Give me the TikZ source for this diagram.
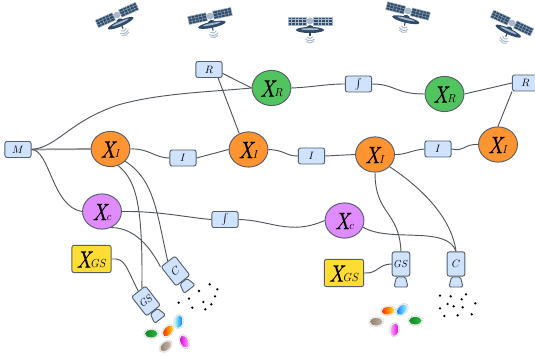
\documentclass[tikz,border=0pt]{standalone}
\usetikzlibrary{shapes.geometric,calc}
\definecolor{boxfill}{HTML}{CFE3FF}
\definecolor{boxline}{HTML}{555F6B}
\definecolor{wire}{HTML}{50565D}
\definecolor{orangeX}{HTML}{FF9430}
\definecolor{greenX}{HTML}{52C45F}
\definecolor{purpleX}{HTML}{E08BFF}
\definecolor{yellowX}{HTML}{FFDD33}
\definecolor{satblue}{HTML}{2F4B69}
\definecolor{satpale}{HTML}{A9B9C9}
\definecolor{grainA}{HTML}{0E8A22}
\definecolor{grainB}{HTML}{2DB548}
\font\stateface="Latin Modern Roman/I:embolden=0.5" at 10pt
\newcommand{\statelabel}[1]{\raisebox{-6.5pt}[0pt][0pt]{\makebox[0pt]{\scalebox{1.5}[1.78]{\stateface X}\kern-0.2pt\scalebox{0.8}[0.88]{$#1$}}}}
\newcommand{\boxlabel}[1]{\scalebox{0.8}{$#1$}}
\newcommand{\pairlabel}[1]{\scalebox{0.7}[0.76]{$#1$}}
\tikzset{
  x=0.75pt,y=-0.75pt,
  blockbox/.style={draw=boxline,fill=boxfill,rounded corners=1.6pt,line width=0.7pt,minimum width=19.6pt,minimum height=12pt,inner sep=0pt},
  statenode/.style={ellipse,draw=boxline,line width=0.7pt,minimum width=29.2pt,minimum height=26.4pt,inner sep=0pt},
  isstate/.style={statenode,fill=orangeX},
  rstate/.style={statenode,fill=greenX},
  cstate/.style={statenode,fill=purpleX},
  gsstate/.style={draw=boxline,line width=0.7pt,fill=yellowX,rounded corners=1.6pt,minimum width=29.4pt,minimum height=20.4pt,inner sep=0pt},
  camerabody/.style={draw=boxline,fill=boxfill,rounded corners=1.6pt,line width=0.7pt,minimum width=13.2pt,minimum height=18.2pt,inner sep=0pt},
  wireline/.style={draw=wire,line width=0.7pt},
  satellite/.pic={
    \fill[satblue] (-22,-4) rectangle (-3.5,4);
    \fill[satblue] (3.5,-4) rectangle (22,4);
    \foreach \gx in {-18.5,-15,-11.5,-8}{\draw[satpale,line width=0.25pt] (\gx,-4) -- (\gx,4);\draw[satpale,line width=0.25pt] (-\gx,-4) -- (-\gx,4);}
    \draw[satpale,line width=0.25pt] (-22,-1.4) -- (-3.5,-1.4) (-22,1.4) -- (-3.5,1.4) (3.5,-1.4) -- (22,-1.4) (3.5,1.4) -- (22,1.4);
    \draw[satpale,line width=0.4pt] (-22,-4) rectangle (-3.5,4) (3.5,-4) rectangle (22,4);
    \fill[satpale] (0,0) circle (3.4);
    \fill[satblue] (-4,7.6) .. controls (-3,3) and (3,3) .. (4,7.6) -- cycle;
    \fill[satblue] (0,9) ellipse (14 and 3);
    \fill[satpale] (0,8.2) ellipse (9 and 1);
    \draw[satblue,line width=0.8pt] (0,11) -- (0,15);
    \draw[satpale,line width=0.7pt] (-3,16) .. controls (-1,18) and (1,18) .. (3,16);
    \draw[satpale,line width=0.7pt] (-4.5,18) .. controls (-1.5,20.5) and (1.5,20.5) .. (4.5,18);
    \draw[satpale,line width=0.7pt] (-4,20.5) .. controls (-1.5,22.5) and (1.5,22.5) .. (4,20.5);
  }
}
% a coloured grain with a pale dashed rim
\newcommand{\grain}[5]{%
  \begin{scope}[shift={(#1,#2)},rotate=#3]
    \fill[gray!15] (0,0) ellipse (7.6 and 5.2);
    \draw[gray!60,line width=0.3pt,densely dotted] (0,0) ellipse (7.6 and 5.2);
    \shade[left color=#4,right color=#5] (0,0) ellipse (6.2 and 3.7);
  \end{scope}}
% the lens below a camera body
\newcommand{\cameralens}[3]{%
  \begin{scope}[shift={(#1,#2)},rotate=#3]
    \draw[draw=boxline,fill=boxfill,line width=0.7pt,rounded corners=1.2pt] (-4.5,13) -- (4.5,13) -- (7,23) -- (-7,23) -- cycle;
  \end{scope}}
\begin{document}
\begin{tikzpicture}
\useasboundingbox[fill=white] (0,0) rectangle (535,356);

% satellites along the top
\pic[rotate=24] at (117,15) {satellite};
\pic[rotate=12] at (210,16) {satellite};
\pic at (310,21) {satellite};
\pic[rotate=-14] at (408,11) {satellite};
\pic[rotate=-25] at (512,23) {satellite};

% wires lie under the nodes, so the nodes go on a later layer
\pgfdeclarelayer{front}
\pgfsetlayers{main,front}
\begin{pgfonlayer}{front}
\node[blockbox] (M) at (18,149.5) {\boxlabel{M}};
\node[isstate] (XI1) at (110.5,149) {\statelabel{I}};
\node[blockbox] (I1) at (183,158) {\boxlabel{I}};
\node[isstate] (XI2) at (248.5,149.5) {\statelabel{I}};
\node[blockbox] (I2) at (311.5,156) {\boxlabel{I}};
\node[isstate] (XI3) at (375,154.5) {\statelabel{I}};
\node[blockbox] (I3) at (438,149) {\boxlabel{I}};
\node[isstate] (XI4) at (498,144.5) {\statelabel{I}};
\node[blockbox] (R1) at (209,69.5) {\boxlabel{R}};
\node[rstate] (XR1) at (271.5,88) {\statelabel{R}};
\node[blockbox] (Int1) at (358.5,84) {\boxlabel{\int}};
\node[rstate] (XR2) at (444.5,94) {\statelabel{R}};
\node[blockbox] (R2) at (525.5,83) {\boxlabel{R}};
\node[cstate] (Xc1) at (102,211.5) {\statelabel{c}};
\node[blockbox] (Int2) at (225,219.5) {\boxlabel{\int}};
\node[cstate] (Xc2) at (344.5,220.5) {\statelabel{c}};
\node[gsstate] (XGS1) at (91.5,259) {\statelabel{GS}};
\node[gsstate] (XGS2) at (344,273) {\statelabel{GS}};
\cameralens{175.5}{271}{38}
\node[camerabody,rotate=38] (C1) at (175.5,271) {\boxlabel{C}};
\cameralens{146}{301}{38}
\node[camerabody,rotate=38] (GS1) at (146,301) {\pairlabel{GS}};
\cameralens{401}{264}{0}
\node[camerabody] (GS2) at (401,264) {\pairlabel{GS}};
\cameralens{456}{264}{0}
\node[camerabody] (C2) at (456,264) {\boxlabel{C}};
\end{pgfonlayer}

% connectors
\draw[draw=gray!85,line width=1.3pt] (M.east) -- (XI1.west);
\draw[wireline] (M.east) .. controls (58,147) and (68,122) .. (118,105) .. controls (160,93) and (210,92) .. (XR1.west);
\draw[wireline] (M.east) .. controls (50,150) and (52,207) .. (Xc1.west);
\draw[wireline] (XI1.east) .. controls (148,148) and (155,158) .. (I1.west);
\draw[wireline] (I1.east) -- (XI2.west);
\draw[wireline] (R1.-43) -- (XI2.120);
\draw[wireline] (R1.-16) -- (XR1.180);
\draw[wireline] (XR1.east) .. controls (315,87) and (325,84) .. (Int1.west);
\draw[wireline] (Int1.east) .. controls (395,84) and (395,94) .. (XR2.west);
\draw[wireline] (XR2.east) -- (R2.west);
\draw[wireline] (R2.south west) -- (XI4.north);
\draw[wireline] (XI2.east) .. controls (285,150) and (285,156) .. (I2.west);
\draw[wireline] (I2.east) -- (XI3.west);
\draw[wireline] (XI3.east) .. controls (405,155) and (412,150) .. (I3.west);
\draw[wireline] (I3.east) .. controls (465,152) and (463,144) .. (XI4.west);
\draw[wireline] (XI3.south) .. controls (375,215) and (399,210) .. (GS2.north);
\draw[wireline] (XI3.-40) .. controls (425,190) and (452,220) .. (C2.north);
\draw[wireline] (Xc2.-20) .. controls (390,243) and (447,225) .. (C2.north);
\draw[wireline] (Xc1.east) .. controls (160,211) and (190,218) .. (Int2.west);
\draw[wireline] (Int2.east) .. controls (270,220) and (290,236) .. (Xc2.west);
\draw[wireline] (Xc1.-60) .. controls (135,228) and (150,247) .. (C1.north west);
\draw[wireline] (XI1.-65) .. controls (135,180) and (143,200) .. ($(GS1.north)!0.5!(GS1.north east)$);
\draw[wireline] (XI1.-40) .. controls (155,180) and (157,215) .. (C1.north);
\draw[wireline] (XGS1.east) .. controls (125,258) and (125,265) .. (GS1.north);
\draw[wireline] (XGS2.east) .. controls (378,274) and (378,264) .. (GS2.west);

% particle clouds below the C cameras
\foreach \px/\py in {536/380,567/368,597/345,629/325,652/340,645/361,610/378,634/385,577/395,616/400}
  \fill (\px/3,176+\py/3) circle (1.3);
\foreach \px/\py in {525/359,557/361,603/355,590/370,548/384,566/391,593/394,631/382,525/397,538/420,578/418,620/415}
  \fill (265+\px/3,176+\py/3) circle (1.3);

% coloured grains below the GS cameras
\grain{151.3}{333.7}{0}{grainA}{grainB}
\grain{168}{331}{50}{red!70!orange}{yellow!80!orange}
\grain{178.7}{321.7}{80}{cyan!35}{blue!55!cyan}
\grain{165.7}{346.3}{40}{gray!70!brown}{brown!30!gray!50}
\grain{184.3}{341.7}{-65}{magenta!85!black}{magenta!35}
\grain{388}{310.7}{10}{red!70!orange}{yellow!80!orange}
\grain{402}{309.7}{45}{blue!50!cyan}{cyan!30}
\grain{376.3}{321.7}{0}{gray!70!brown}{brown!30!gray!60}
\grain{415.3}{320.7}{0}{grainA}{grainB}
\grain{394.7}{329.7}{80}{magenta!35}{magenta!85!black}
\end{tikzpicture}
\end{document}
